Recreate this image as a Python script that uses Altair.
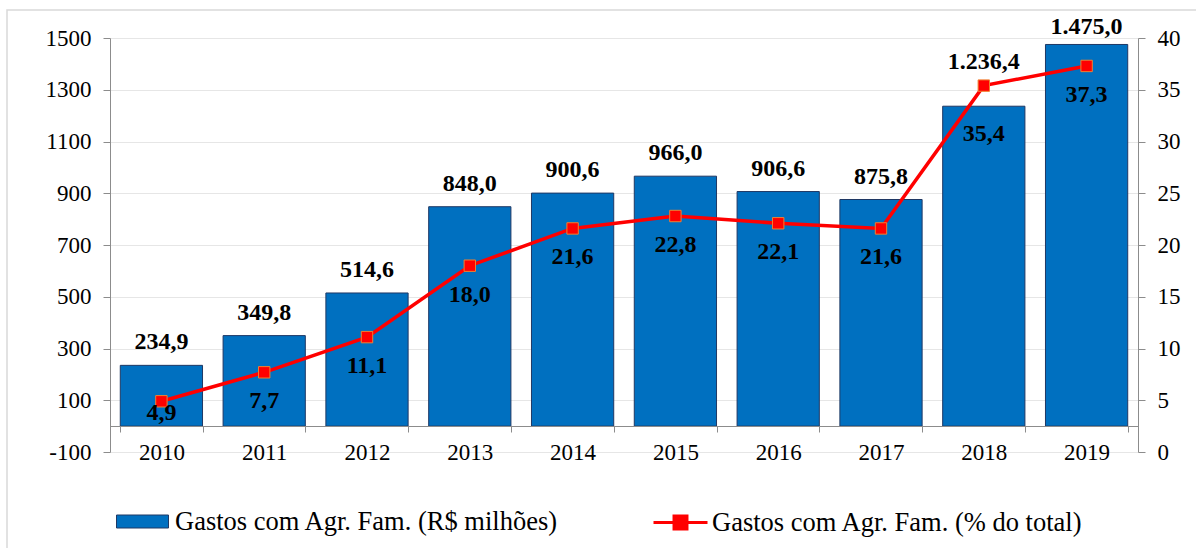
import altair as alt
import pandas as pd

# ---- data ----
years = ["2010", "2011", "2012", "2013", "2014", "2015", "2016", "2017", "2018", "2019"]
gastos = [234.9, 349.8, 514.6, 848.0, 900.6, 966.0, 906.6, 875.8, 1236.4, 1475.0]
pct = [4.9, 7.7, 11.1, 18.0, 21.6, 22.8, 22.1, 21.6, 35.4, 37.3]
series_bar = "Gastos com Agr. Fam. (R$ milhões)"
series_line = "Gastos com Agr. Fam. (% do total)"
left_ticks = [-100, 100, 300, 500, 700, 900, 1100, 1300, 1500]
right_ticks = [0, 5, 10, 15, 20, 25, 30, 35, 40]


def br(v):
    s = f"{v:,.1f}"
    return s.replace(",", "_").replace(".", ",").replace("_", ".")


df = pd.DataFrame({
    "year": years,
    "gastos": gastos,
    "pct": pct,
    "gastos_lbl": [br(v) for v in gastos],
    "pct_lbl": [br(v) for v in pct],
    "sb": [series_bar] * len(years),
    "sl": [series_line] * len(years),
})

FONT = "Liberation Serif"
W, H = 1028, 414
AXC = "#8c8c8c"
BLUE = "#0070C0"
NAVY = "#1F3864"
RED = "#FF0000"
AX_FS = 23
LBL_FS = 24
LEG_FS = 26.5

base = alt.Chart(df)

x = alt.X(
    "year:N", title=None,
    scale=alt.Scale(paddingInner=0.2, paddingOuter=0.1),
    axis=alt.Axis(offset=-26, tickBand="extent", domainColor=AXC, tickColor=AXC,
                  tickSize=6, labelPadding=9, labelFont=FONT, labelFontSize=AX_FS,
                  labelColor="black", labelAngle=0, grid=False, zindex=1),
)

left_axis = alt.Axis(values=left_ticks, orient="left", grid=True, gridColor="#e6e6e6",
                     domainColor=AXC, tickColor=AXC, tickSize=7, labelPadding=12,
                     labelFont=FONT, labelFontSize=AX_FS, labelColor="black",
                     labelOverlap=False, labelExpr="'' + datum.value")
left_scale = alt.Scale(domain=[-100, 1500], nice=False, zero=False)

right_axis = alt.Axis(values=right_ticks, orient="right", grid=False,
                      domainColor=AXC, tickColor=AXC, tickSize=7, labelPadding=12,
                      labelFont=FONT, labelFontSize=AX_FS, labelColor="black",
                      labelOverlap=False, labelExpr="'' + datum.value")
right_scale = alt.Scale(domain=[0, 40], nice=False, zero=False)


def not_in(keys):
    arr = ",".join(f"'{k}'" for k in keys)
    return f"indexof([{arr}], datum.year) < 0"


bars = base.mark_bar(stroke=NAVY, strokeWidth=1).encode(
    x=x,
    y=alt.Y("gastos:Q", title=None, scale=left_scale, axis=left_axis),
    fill=alt.Fill("sb:N", scale=alt.Scale(range=[BLUE]),
                  legend=alt.Legend(title=None, orient="none", legendX=6, legendY=457,
                                    symbolType="M-1,-0.25H1V0.25H-1Z", symbolSize=2704,
                                    symbolStrokeColor=NAVY, symbolStrokeWidth=1,
                                    labelFont=FONT, labelFontSize=LEG_FS, labelColor="black",
                                    labelOffset=6, padding=0, labelLimit=700)),
)

bar_dy = {"2018": -44, "2019": -17}
bar_labels = [
    base.transform_filter(not_in(bar_dy.keys()))
    .mark_text(font=FONT, fontSize=LBL_FS, fontWeight="bold", color="black", baseline="middle", dy=-23)
    .encode(x=x, y=alt.Y("gastos:Q", title=None, scale=left_scale, axis=left_axis), text="gastos_lbl:N")
]
for yr, d in bar_dy.items():
    bar_labels.append(
        base.transform_filter(f"datum.year == '{yr}'")
        .mark_text(font=FONT, fontSize=LBL_FS, fontWeight="bold", color="black", baseline="middle", dy=d)
        .encode(x=x, y=alt.Y("gastos:Q", title=None, scale=left_scale, axis=left_axis), text="gastos_lbl:N")
    )

left = alt.layer(bars, *bar_labels)

line = base.mark_line(strokeWidth=3.5).encode(
    x=x,
    y=alt.Y("pct:Q", title=None, scale=right_scale, axis=right_axis),
    stroke=alt.Stroke("sl:N", scale=alt.Scale(range=[RED]),
                      legend=alt.Legend(title=None, orient="none", legendX=542, legendY=456,
                                        symbolType="M-1,0H1M-0.24,-0.24H0.24V0.24H-0.24Z",
                                        symbolSize=2916, symbolStrokeWidth=3,
                                        symbolFillColor=RED,
                                        labelFont=FONT, labelFontSize=LEG_FS, labelColor="black",
                                        labelOffset=3, padding=0, labelLimit=700)),
)

points = base.mark_square(size=130, fill=RED, stroke="#F08030", strokeWidth=1, opacity=1).encode(
    x=x,
    y=alt.Y("pct:Q", title=None, scale=right_scale, axis=right_axis),
)

line_dy = {"2010": 12, "2018": 48}
line_labels = [
    base.transform_filter(not_in(line_dy.keys()))
    .mark_text(font=FONT, fontSize=LBL_FS, fontWeight="bold", color="black", baseline="middle", dy=29)
    .encode(x=x, y=alt.Y("pct:Q", title=None, scale=right_scale, axis=right_axis), text="pct_lbl:N")
]
for yr, d in line_dy.items():
    line_labels.append(
        base.transform_filter(f"datum.year == '{yr}'")
        .mark_text(font=FONT, fontSize=LBL_FS, fontWeight="bold", color="black", baseline="middle", dy=d)
        .encode(x=x, y=alt.Y("pct:Q", title=None, scale=right_scale, axis=right_axis), text="pct_lbl:N")
    )

right = alt.layer(line, points, *line_labels)

border = alt.Chart(pd.DataFrame({"a": [0]})).mark_rect(
    fill=None, stroke="#d9d9d9", strokeWidth=1.5
).encode(x=alt.value(-103), x2=alt.value(1100), y=alt.value(-28), y2=alt.value(530))

chart = alt.layer(border, left, right).resolve_scale(y="independent").properties(
    width=W, height=H,
    autosize=alt.AutoSizeParams(type="none"),
    padding={"left": 110, "top": 38, "right": 58, "bottom": 96},
    background="white",
).configure(font=FONT).configure_axis(
    labelFont=FONT, labelFontSize=AX_FS, labelColor="black"
).configure_legend(
    labelFont=FONT, labelFontSize=LEG_FS, labelColor="black"
).configure_text(font=FONT).configure_view(stroke=None)

chart.save("out.html", embed_options={"renderer": "svg", "actions": False})
